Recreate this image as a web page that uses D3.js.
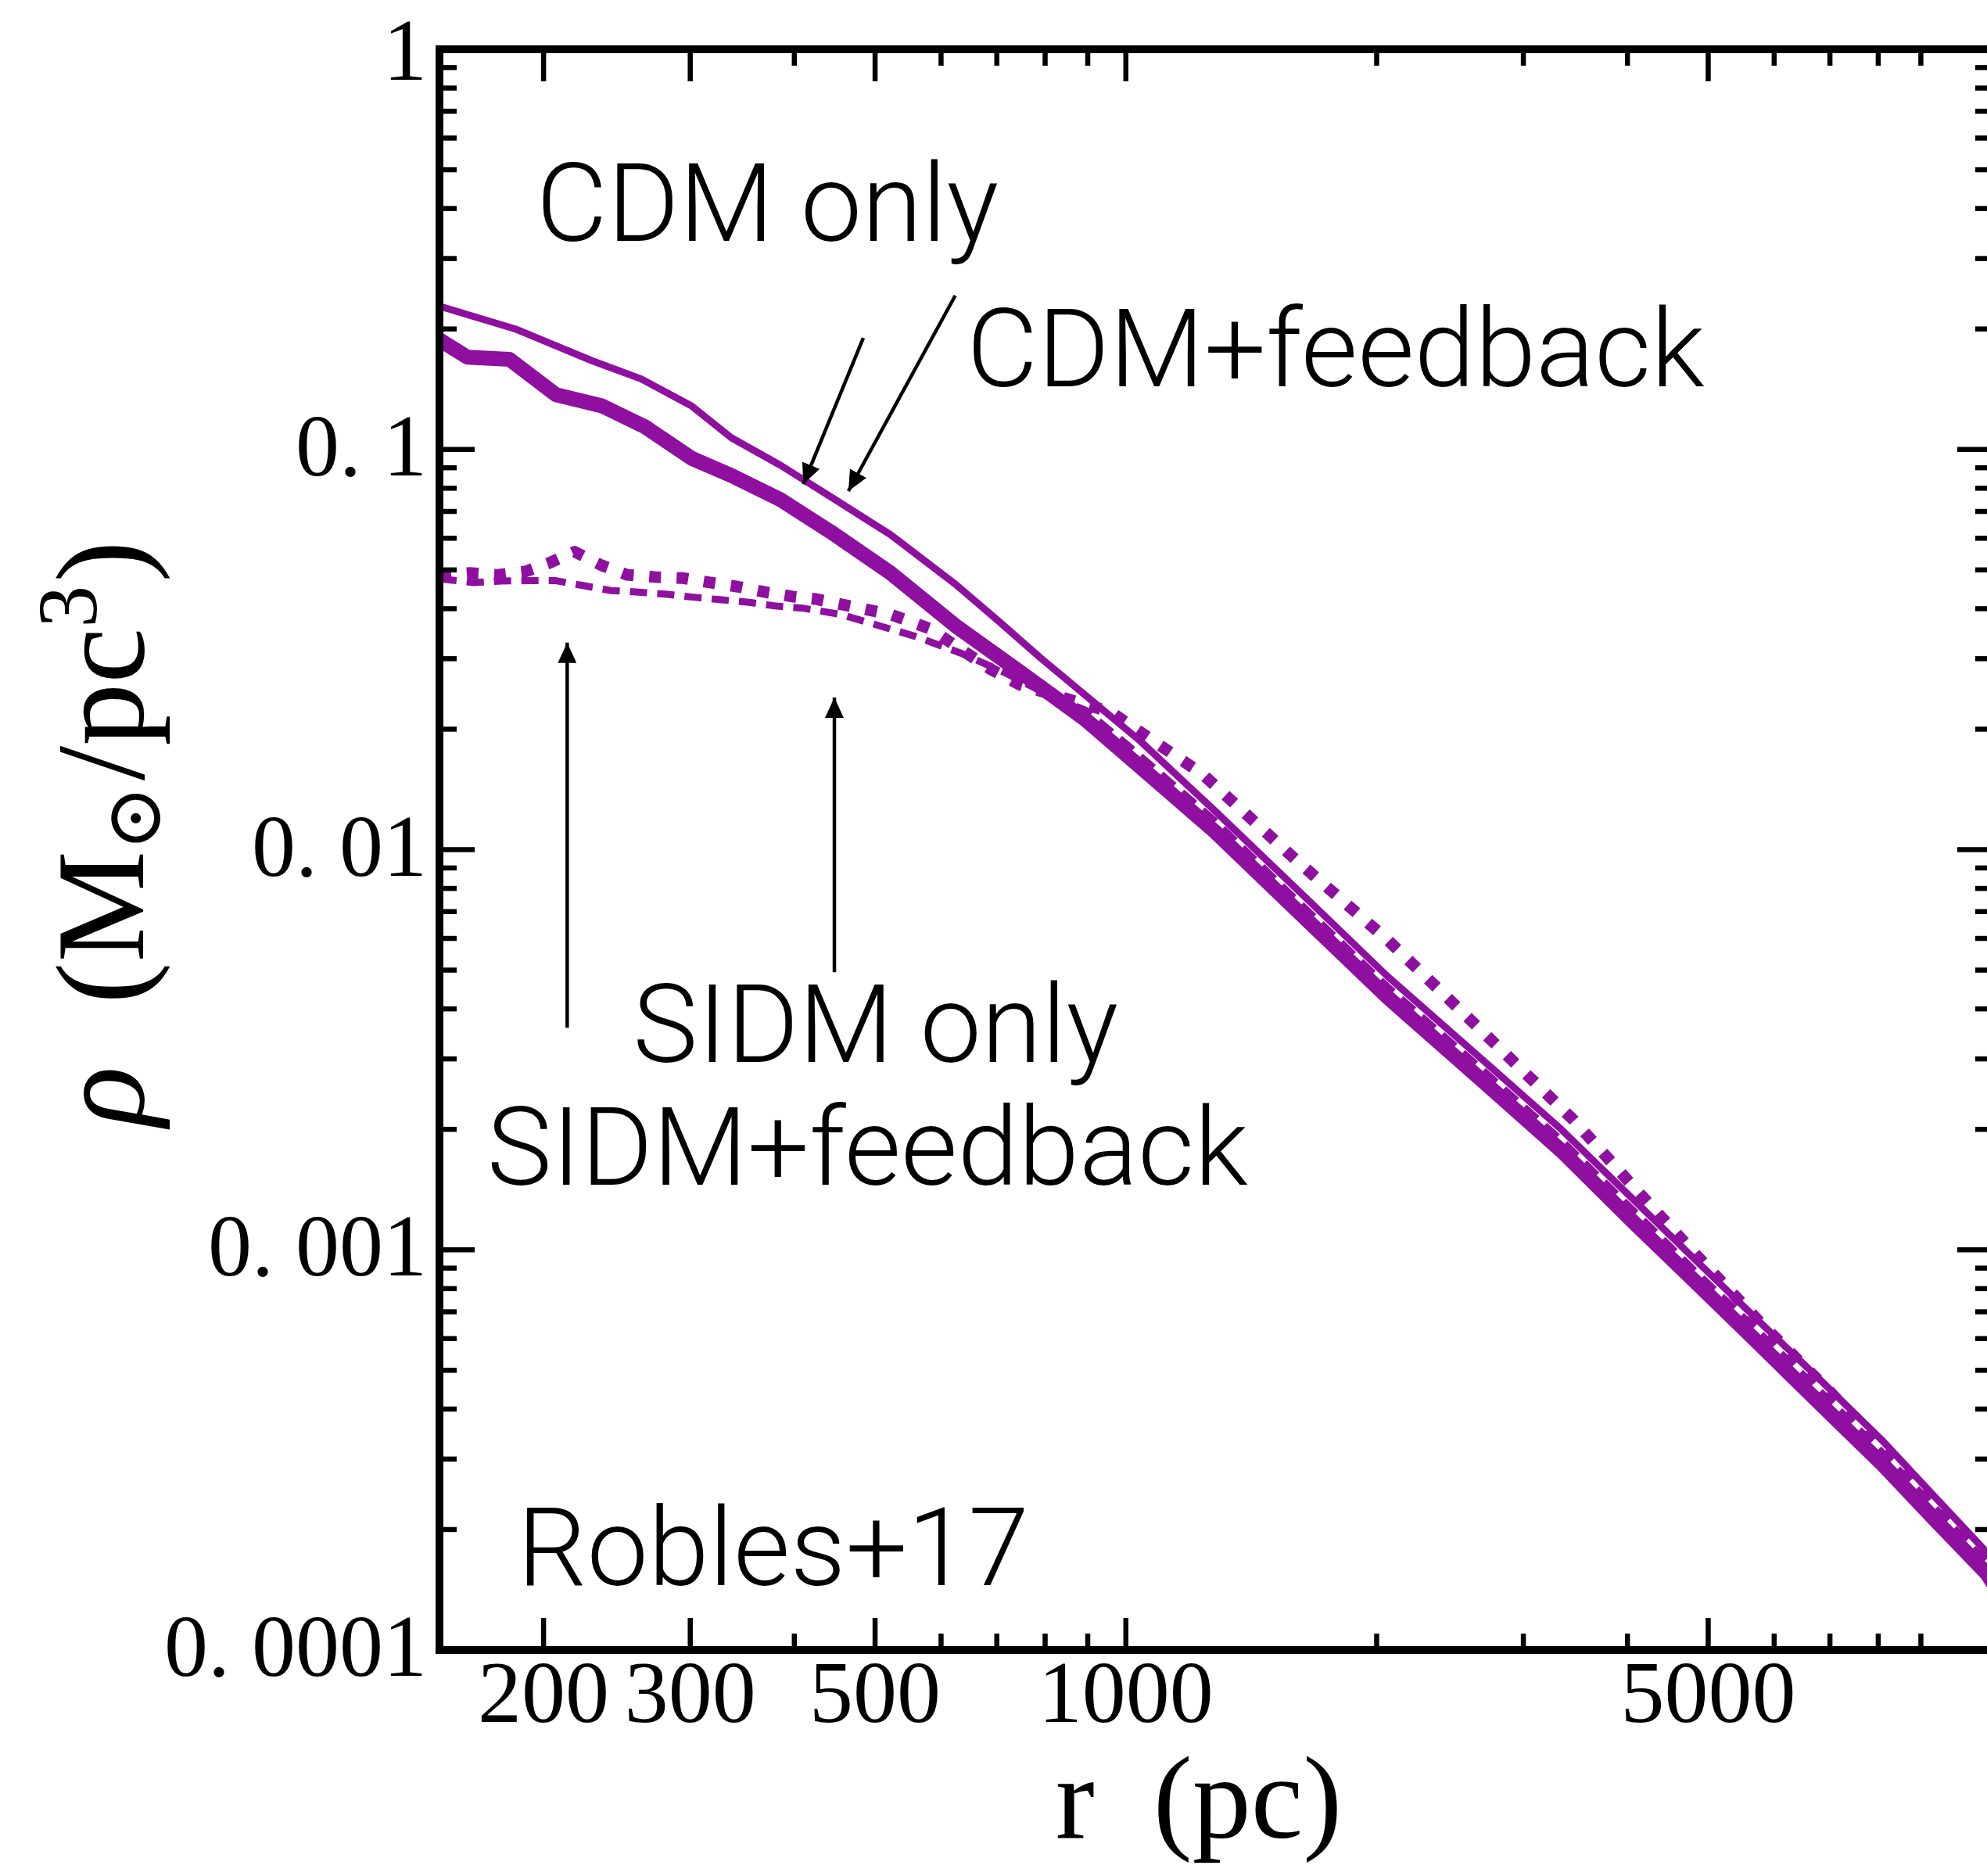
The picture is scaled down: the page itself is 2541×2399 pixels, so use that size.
<!DOCTYPE html>
<html><head><meta charset="utf-8">
<script src="https://cdn.jsdelivr.net/npm/d3@7"></script>
<style>
body{margin:0;background:#fff;}
svg{display:block;}
</style>
</head><body>
<svg id="chart" width="2541" height="2399"></svg>
<script>
// ---------------- data ----------------
const cdmOnlyR   = [150, 185, 228, 262, 301, 336, 385, 442, 522, 624, 706, 789, 905, 1040, 1279, 1600, 2066, 2672, 3331, 4089, 4861, 5766, 6836, 8110, 9292, 10810, 11200];
const cdmOnlyRho = [0.228, 0.200, 0.167, 0.150, 0.1285, 0.107, 0.0913, 0.0762, 0.0612, 0.0461, 0.0370, 0.0302, 0.0238, 0.0187, 0.0125, 0.0080, 0.0048, 0.0030, 0.0020, 0.00132, 0.00093, 0.00066, 0.00047, 0.000332, 0.000245, 0.000175, 0.000158];

const cdmFbR   = [150, 162, 182, 207, 235, 265, 301, 336, 385, 442, 522, 624, 741, 894, 1000, 1279, 1600, 2066, 2672, 3331, 4089, 4861, 5766, 6836, 8110, 9292, 10810, 11200];
const cdmFbRho = [0.188, 0.170, 0.168, 0.137, 0.1285, 0.1138, 0.0951, 0.0861, 0.0749, 0.0623, 0.0491, 0.0363, 0.0281, 0.02115, 0.0173, 0.0111, 0.00709, 0.00426, 0.00266, 0.00177, 0.00116, 0.00082, 0.00058, 0.00041, 0.00029, 0.000215, 0.000155, 0.000138];

const sidmFbR   = [150, 165, 178, 192, 207, 223, 241, 260, 280, 304, 327, 353, 381, 410, 455, 559, 641, 715, 800, 894, 1000, 1279, 1600, 2066, 2672, 3331, 4089, 4861, 5766, 6836, 8110, 9292, 10810, 11200];
const sidmFbRho = [0.0475, 0.0465, 0.0469, 0.047, 0.047, 0.0457, 0.0444, 0.044, 0.0435, 0.0427, 0.0421, 0.0415, 0.0406, 0.0401, 0.0387, 0.0341, 0.0307, 0.0277, 0.0246, 0.0223, 0.0184, 0.0118, 0.0075, 0.00452, 0.00283, 0.00188, 0.00124, 0.00087, 0.00062, 0.00044, 0.00031, 0.00023, 0.000165, 0.000148];

const sidmOnlyR   = [150, 163, 176, 190, 203, 218, 235, 252, 272, 294, 317, 342, 369, 398, 424, 522, 583, 633, 687, 747, 850, 958, 1236, 1598, 2066, 2672, 3447, 4089, 4861, 5766, 6955, 8110, 9292, 10810, 11200];
const sidmOnlyRho = [0.0485, 0.0491, 0.0486, 0.0495, 0.052, 0.0555, 0.0513, 0.0486, 0.048, 0.0477, 0.0465, 0.0454, 0.044, 0.0429, 0.0423, 0.0387, 0.0356, 0.0317, 0.0283, 0.0258, 0.0238, 0.0221, 0.01544, 0.00945, 0.00592, 0.00353, 0.00211, 0.00142, 0.00096, 0.00066, 0.000448, 0.00032, 0.000235, 0.00017, 0.000152];

const xMajorTicks  = [200, 300, 500, 1000, 5000];
const xTickLabels  = ["200", "300", "500", "1000", "5000"];
const xMinorTicks  = [400, 600, 700, 800, 900, 2000, 3000, 4000, 6000, 7000, 8000, 9000];
const yMajorTicks  = [1, 0.1, 0.01, 0.001, 0.0001];
const yTickLabels  = ["1", "0. 1", "0. 01", "0. 001", "0. 0001"];
const yMinorMant   = [2, 3, 4, 5, 6, 7, 8, 9];

// annotation labels (data-space anchors)
const labelTexts = ["CDM only", "CDM+feedback", "SIDM only", "SIDM+feedback", "Robles+17"];
const labelR     = [196, 644, 256, 171, 186];
const labelRho   = [0.332, 0.1438, 0.002947, 0.001454, 0.0001453];
// arrows: tail -> tip
const arrowR0   = [484, 624, 213.5, 446.8];
const arrowRho0 = [0.190, 0.2424, 0.00359, 0.00494];
const arrowR1   = [410, 464.5, 213.5, 446.8];
const arrowRho1 = [0.0819, 0.0787, 0.0329, 0.024];

// ---------------- chart ----------------
const purple = "#8e0fa0";
const svg = d3.select("#chart");
svg.append("rect").attr("width", 2541).attr("height", 2399).attr("fill", "#fff");

const L = 562, R = 2548, T = 63, B = 2110;
const x = d3.scaleLog().domain([150, 10970]).range([L, R]);
const y = d3.scaleLog().domain([1e-4, 1]).range([B, T]);

const defs = svg.append("defs");
defs.append("clipPath").attr("id", "clip")
  .append("rect").attr("x", L).attr("y", T).attr("width", R - L).attr("height", B - T);
defs.append("marker").attr("id", "head")
  .attr("viewBox", "0 0 26 24").attr("refX", 26).attr("refY", 12)
  .attr("markerWidth", 26).attr("markerHeight", 24)
  .attr("markerUnits", "userSpaceOnUse").attr("orient", "auto")
  .append("path").attr("d", "M0,0 L26,12 L0,24 Z").attr("fill", "#000");

const line = d3.line().x(d => x(d[0])).y(d => y(d[1]));
const zip = (a, b) => a.map((v, i) => [v, b[i]]);

const series = [
  {r: cdmFbR,    rho: cdmFbRho,    w: 19, dash: null},
  {r: cdmOnlyR,  rho: cdmOnlyRho,  w: 9,  dash: null},
  {r: sidmFbR,   rho: sidmFbRho,   w: 9,  dash: "22,13"},
  {r: sidmOnlyR, rho: sidmOnlyRho, w: 15, dash: "15,20"}
];
const gLines = svg.append("g").attr("clip-path", "url(#clip)");
series.forEach(s => {
  gLines.append("path")
    .attr("d", line(zip(s.r, s.rho)))
    .attr("fill", "none")
    .attr("stroke", purple)
    .attr("stroke-width", s.w)
    .attr("stroke-linejoin", "round")
    .attr("stroke-dasharray", s.dash);
});

// ticks on all four sides (inward)
const gT = svg.append("g").attr("stroke", "#000").attr("stroke-width", 6.5);
function xt(v, len) {
  gT.append("line").attr("x1", x(v)).attr("x2", x(v)).attr("y1", B).attr("y2", B - len);
  gT.append("line").attr("x1", x(v)).attr("x2", x(v)).attr("y1", T).attr("y2", T + len);
}
function yt(v, len) {
  gT.append("line").attr("y1", y(v)).attr("y2", y(v)).attr("x1", L).attr("x2", L + len);
  gT.append("line").attr("y1", y(v)).attr("y2", y(v)).attr("x1", R).attr("x2", R - len);
}
xMajorTicks.forEach(v => xt(v, 41));
xMinorTicks.forEach(v => xt(v, 21));
yMajorTicks.forEach(v => yt(v, 45));
yMajorTicks.slice(1).forEach(d => yMinorMant.forEach(m => yt(m * d, 22)));

// frame
svg.append("rect").attr("x", L).attr("y", T).attr("width", R - L).attr("height", B - T)
  .attr("fill", "none").attr("stroke", "#000").attr("stroke-width", 10);

// tick labels
const serif = "'Liberation Serif', 'DejaVu Serif', serif";
svg.append("g").selectAll("text").data(xMajorTicks).join("text")
  .attr("x", d => x(d)).attr("y", B + 92)
  .attr("text-anchor", "middle").attr("font-family", serif).attr("font-size", 112)
  .text((d, i) => xTickLabels[i]);
svg.append("g").selectAll("text").data(yMajorTicks).join("text")
  .attr("x", L - 16).attr("y", d => Math.max(y(d) + 33, 102))
  .attr("text-anchor", "end").attr("font-family", serif).attr("font-size", 112)
  .attr("xml:space", "preserve")
  .text((d, i) => yTickLabels[i]);

// axis titles
svg.append("text").attr("x", 1533).attr("y", 2350)
  .attr("text-anchor", "middle").attr("font-family", serif).attr("font-size", 150)
  .attr("xml:space", "preserve").text("r  (pc)");

const yl = svg.append("text")
  .attr("transform", "translate(183,1066) rotate(-90)")
  .attr("text-anchor", "middle").attr("font-family", serif).attr("font-size", 160)
  .attr("xml:space", "preserve");
yl.append("tspan").attr("font-style", "italic").text("ρ");
yl.append("tspan").text("  (M");
yl.append("tspan").attr("font-family", "'DejaVu Serif', serif").attr("font-size", 100).attr("dy", 22).text("⊙");
yl.append("tspan").attr("dy", -22).attr("dx", 6).text("/pc");
yl.append("tspan").attr("font-size", 108).attr("dy", -60).text("3");
yl.append("tspan").attr("dy", 60).attr("dx", 4).text(")");

// annotations
const sans = "Roboto, 'Liberation Sans', sans-serif";
svg.append("g").selectAll("text").data(labelTexts).join("text")
  .attr("x", (d, i) => x(labelR[i])).attr("y", (d, i) => y(labelRho[i]))
  .attr("font-family", sans).attr("font-weight", 300).attr("font-size", 140)
  .attr("fill", "#000")
  .text(d => d);

svg.append("g").selectAll("line").data(arrowR0).join("line")
  .attr("x1", (d, i) => x(arrowR0[i])).attr("y1", (d, i) => y(arrowRho0[i]))
  .attr("x2", (d, i) => x(arrowR1[i])).attr("y2", (d, i) => y(arrowRho1[i]))
  .attr("stroke", "#000").attr("stroke-width", 4.5).attr("marker-end", "url(#head)");
</script>
</body></html>
